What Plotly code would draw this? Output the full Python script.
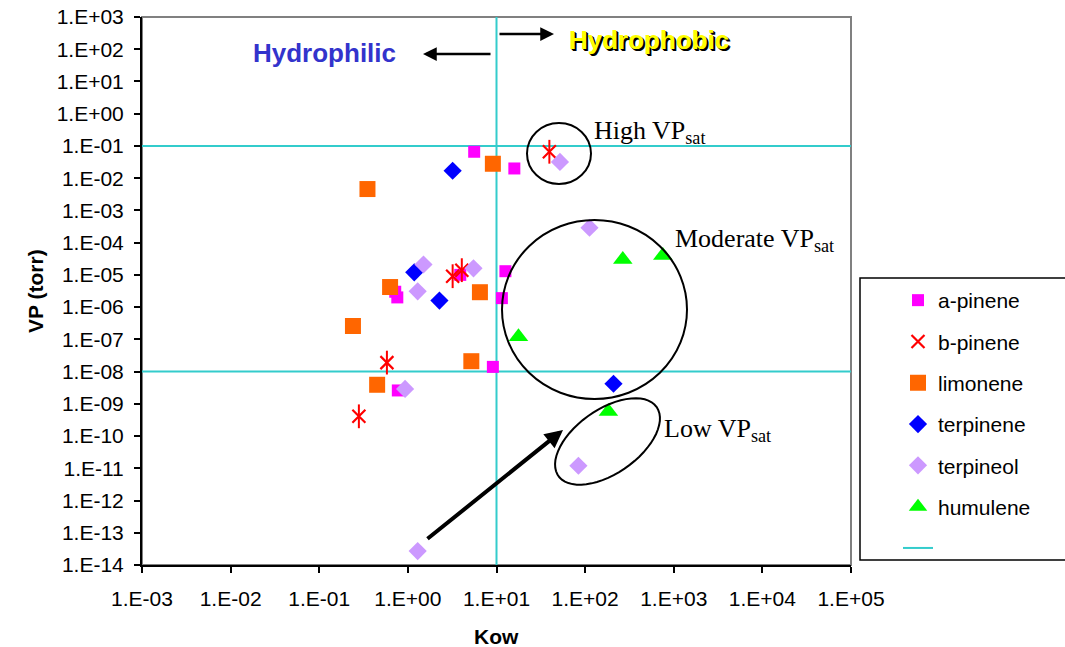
import numpy as np
import plotly.graph_objects as go

# ---------------- data ----------------
a_pinene_kow = [5.6, 15.9, 3.9, 12.6, 0.72, 0.76, 11.5, 9.1, 0.77]
a_pinene_vp = [0.066, 0.020, 1.0e-5, 1.3e-5, 3.0e-6, 2.0e-6, 1.9e-6, 1.4e-8, 2.6e-9]

b_pinene_kow = [39.5, 3.2, 4.06, 0.58, 0.28]
b_pinene_vp = [0.066, 9.1e-6, 1.4e-5, 1.9e-8, 4.1e-10]

limonene_kow = [9.1, 0.35, 0.63, 6.5, 0.24, 5.2, 0.45]
limonene_vp = [0.028, 0.0046, 4.2e-6, 2.9e-6, 2.6e-7, 2.1e-8, 3.9e-9]

terpinene_kow = [3.2, 1.18, 2.27, 209]
terpinene_vp = [0.017, 1.2e-5, 1.6e-6, 4.2e-9]

terpineol_kow = [52, 112, 1.5, 5.5, 1.29, 0.93, 84, 1.29]
terpineol_vp = [0.032, 2.9e-4, 2.1e-5, 1.6e-5, 3.1e-6, 2.9e-9, 1.2e-11, 2.7e-14]

humulene_kow = [17.7, 183, 266, 753]
humulene_vp = [1.2e-7, 5.8e-10, 3.0e-5, 4.0e-5]

# reference lines (Kow = 10, VP = 0.1 and 1e-8)
ref_line_kow = [10, 10, None, 1e-3, 1e5, None, 1e-3, 1e5]
ref_line_vp = [1e-14, 1e3, None, 0.1, 0.1, None, 1e-8, 1e-8]

x_exponents = list(range(-3, 6))
y_exponents = list(range(-14, 4))


def sci_label(e):
    return "1.E%s%02d" % ("+" if e >= 0 else "-", abs(e))


x_tickvals = [10.0 ** e for e in x_exponents]
x_ticktext = [sci_label(e) for e in x_exponents]
y_tickvals = [10.0 ** e for e in y_exponents]
y_ticktext = [sci_label(e) for e in y_exponents]

# ---------------- layout geometry (page pixels) ----------------
PAGE_W, PAGE_H = 1065, 647
L, R, T, B = 142, 851, 17, 565  # plot area on the page
PW, PH = R - L, B - T


def px(xp):
    return (xp - L) / PW


def py(yp):
    return (B - yp) / PH


fig = go.Figure()

fig.add_trace(go.Scatter(x=ref_line_kow, y=ref_line_vp, mode="lines", name="",
                         line=dict(color="#33CCCC", width=2), legendrank=7,
                         legendgroup="g7", showlegend=True, hoverinfo="skip"))

fig.add_trace(go.Scatter(x=a_pinene_kow, y=a_pinene_vp, mode="markers", name="a-pinene",
                         marker=dict(symbol="square", size=12, color="#FF00FF"),
                         legendrank=1, legendgroup="g1"))
fig.add_trace(go.Scatter(x=b_pinene_kow, y=b_pinene_vp, mode="markers", name="b-pinene",
                         marker=dict(symbol="x-thin-open", size=13, color="#FF0000",
                                     line=dict(color="#FF0000", width=2.2)),
                         legendrank=2, legendgroup="g2"))
fig.add_trace(go.Scatter(x=b_pinene_kow, y=b_pinene_vp, mode="markers", name="b-pinene",
                         marker=dict(symbol="line-ns-open", size=17, color="#FF0000",
                                     line=dict(color="#FF0000", width=2)),
                         showlegend=False, legendgroup="g2", hoverinfo="skip"))
fig.add_trace(go.Scatter(x=limonene_kow, y=limonene_vp, mode="markers", name="limonene",
                         marker=dict(symbol="square", size=16, color="#FF6600"),
                         legendrank=3, legendgroup="g3"))
fig.add_trace(go.Scatter(x=terpinene_kow, y=terpinene_vp, mode="markers", name="terpinene",
                         marker=dict(symbol="diamond", size=14, color="#0000FF"),
                         legendrank=4, legendgroup="g4"))
fig.add_trace(go.Scatter(x=terpineol_kow, y=terpineol_vp, mode="markers", name="terpineol",
                         marker=dict(symbol="diamond", size=14, color="#CC99FF"),
                         legendrank=5, legendgroup="g5"))
fig.add_trace(go.Scatter(x=humulene_kow, y=humulene_vp, mode="markers", name="humulene",
                         marker=dict(symbol="triangle-up", size=17, color="#00FF00"),
                         legendrank=6, legendgroup="g6"))

shapes = []
# gray frame (top/right)
shapes.append(dict(type="rect", xref="paper", yref="paper", x0=0, x1=1, y0=0, y1=1,
                   line=dict(color="#808080", width=2), layer="below"))
# legend box
shapes.append(dict(type="rect", xref="paper", yref="paper",
                   x0=px(860), x1=px(1080), y0=py(560), y1=py(278),
                   line=dict(color="black", width=1.5), layer="above"))
# High VP circle
shapes.append(dict(type="circle", xref="paper", yref="paper",
                   x0=px(527), x1=px(591), y0=py(184), y1=py(123),
                   line=dict(color="black", width=2)))
# Moderate VP circle
shapes.append(dict(type="circle", xref="paper", yref="paper",
                   x0=px(502), x1=px(687), y0=py(399), y1=py(220),
                   line=dict(color="black", width=2)))
# Low VP tilted ellipse
cx, cy, a, b, th = 607.5, 441.5, 60, 32, np.deg2rad(35)
t = np.linspace(0, 2 * np.pi, 60)
ex = cx + a * np.cos(t) * np.cos(th) + b * np.sin(t) * np.sin(th)
ey = cy - a * np.cos(t) * np.sin(th) + b * np.sin(t) * np.cos(th)
path = "M " + " L ".join("%.4f,%.4f" % (px(xx), py(yy)) for xx, yy in zip(ex, ey)) + " Z"
shapes.append(dict(type="path", xref="paper", yref="paper", path=path,
                   line=dict(color="black", width=2)))

annotations = []
# axis titles
annotations.append(dict(text="<b>VP (torr)</b>", xref="paper", yref="paper",
                        x=px(35), y=py(291), textangle=-90, showarrow=False,
                        xanchor="center", yanchor="middle",
                        font=dict(family="Arial, Liberation Sans", size=21, color="black")))
annotations.append(dict(text="<b>Kow</b>", xref="paper", yref="paper",
                        x=px(496), y=py(636), showarrow=False,
                        xanchor="center", yanchor="middle",
                        font=dict(family="Arial, Liberation Sans", size=21, color="black")))
# Hydrophilic / Hydrophobic
annotations.append(dict(text="<b>Hydrophilic</b>", xref="paper", yref="paper",
                        x=px(324), y=py(53), showarrow=False,
                        xanchor="center", yanchor="middle",
                        font=dict(family="Arial, Liberation Sans", size=26, color="#3333CC")))
annotations.append(dict(text="<b>Hydrophobic</b>", xref="paper", yref="paper",
                        x=px(649), y=py(40), showarrow=False,
                        xanchor="center", yanchor="middle",
                        font=dict(family="Arial, Liberation Sans", size=26, color="#FFFF00",
                                  shadow="2px 2px 0px #000000, 1px 1px 0px #000000")))
# arrows
annotations.append(dict(text="", xref="paper", yref="paper", x=px(554), y=py(34),
                        ax=-56, ay=0, showarrow=True, arrowhead=2, arrowsize=1.1,
                        arrowwidth=2.5, arrowcolor="black", standoff=0, startstandoff=0))
annotations.append(dict(text="", xref="paper", yref="paper", x=px(423), y=py(54),
                        ax=69, ay=0, showarrow=True, arrowhead=2, arrowsize=1.1,
                        arrowwidth=2.5, arrowcolor="black", standoff=0, startstandoff=0))
annotations.append(dict(text="", xref="paper", yref="paper", x=px(563), y=py(430),
                        ax=-137, ay=110, showarrow=True, arrowhead=2, arrowsize=0.9,
                        arrowwidth=4, arrowcolor="black", standoff=0, startstandoff=0))
# VP_sat labels
tfont = dict(family="Times New Roman, Liberation Serif", size=26, color="black")
annotations.append(dict(text="High VP<sub>sat</sub>", xref="paper", yref="paper",
                        x=px(592), y=py(132), xanchor="left", yanchor="middle",
                        showarrow=False, font=tfont))
annotations.append(dict(text="Moderate VP<sub>sat</sub>", xref="paper", yref="paper",
                        x=px(673), y=py(240), xanchor="left", yanchor="middle",
                        showarrow=False, font=tfont))
annotations.append(dict(text="Low VP<sub>sat</sub>", xref="paper", yref="paper",
                        x=px(662), y=py(430), xanchor="left", yanchor="middle",
                        showarrow=False, font=tfont))

axis_font = dict(family="Arial, Liberation Sans", size=21, color="black")

fig.update_layout(
    width=PAGE_W, height=PAGE_H,
    margin=dict(l=L, r=PAGE_W - R, t=T, b=PAGE_H - B, autoexpand=False),
    paper_bgcolor="white", plot_bgcolor="white",
    showlegend=True,
    legend=dict(x=px(898), y=py(280), xanchor="left", yanchor="top",
                font=dict(family="Arial, Liberation Sans", size=21, color="black"),
                bgcolor="rgba(0,0,0,0)", borderwidth=0,
                traceorder="grouped", tracegroupgap=11, itemwidth=30),
    xaxis=dict(type="log", range=[-3, 5], tickvals=x_tickvals, ticktext=x_ticktext,
               showgrid=False, zeroline=False, showline=True, linecolor="black", linewidth=2,
               ticks="outside", ticklen=6, tickwidth=2, tickcolor="black",
               ticklabelstandoff=8, ticklabeloverflow="allow", tickfont=axis_font),
    yaxis=dict(type="log", range=[-14, 3], tickvals=y_tickvals, ticktext=y_ticktext,
               showgrid=False, zeroline=False, showline=True, linecolor="black", linewidth=2,
               ticks="outside", ticklen=6, tickwidth=2, tickcolor="black",
               ticklabelstandoff=6, ticklabeloverflow="allow", tickfont=axis_font),
    shapes=shapes,
    annotations=annotations,
)

fig.write_html("out.html", config={"displayModeBar": False},
               post_script="document.body.style.margin='0px';document.body.style.overflow='hidden';")
